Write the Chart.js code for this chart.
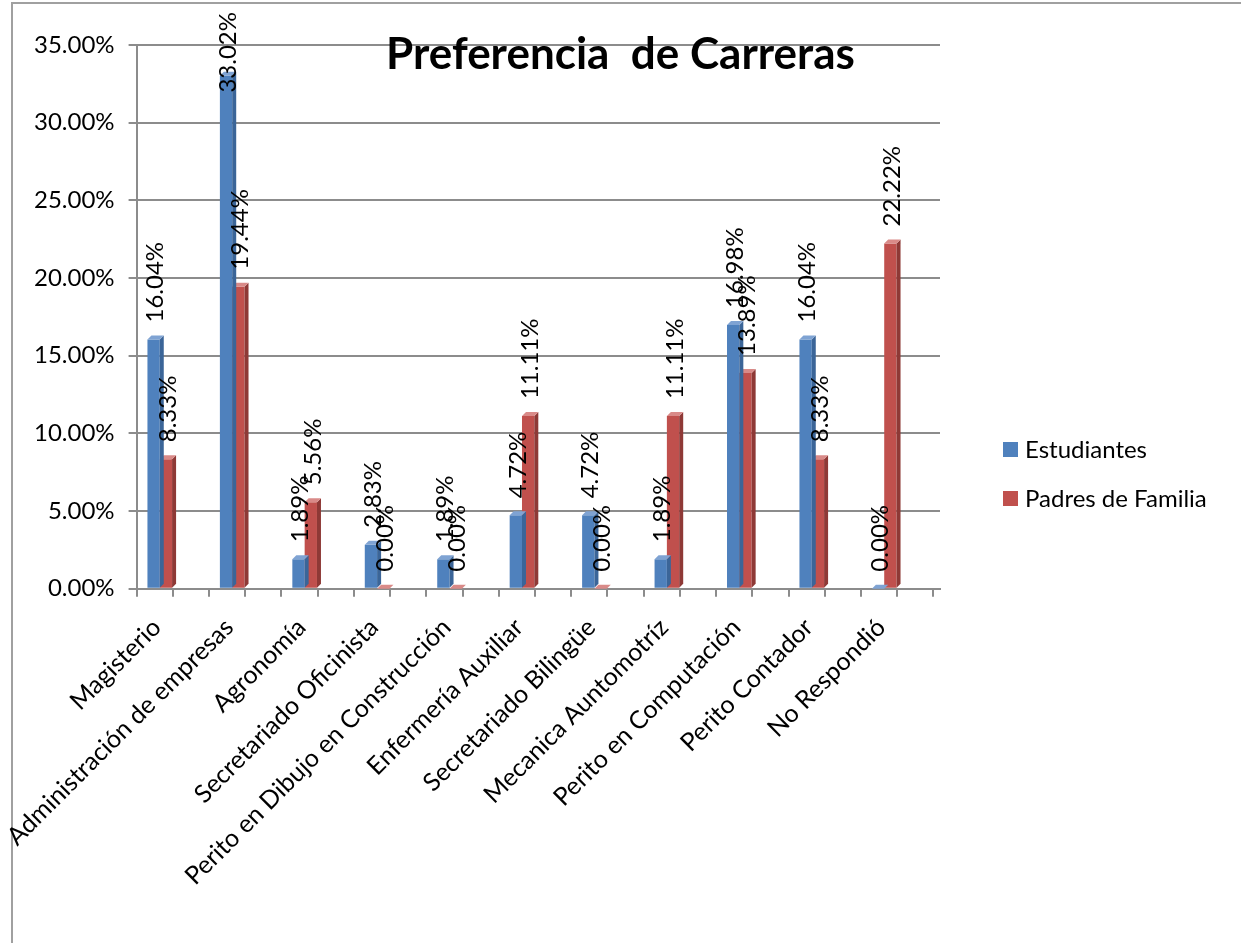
<!DOCTYPE html>
<html>
<head>
<meta charset="utf-8">
<script src="https://cdn.jsdelivr.net/npm/chart.js@4.4.0/dist/chart.umd.min.js"></script>
<style>
  html, body { margin: 0; padding: 0; background: #fff; }
  #wrap { width: 1241px; height: 943px; }
</style>
</head>
<body>
<div id="wrap"><canvas id="bar-chart" width="1241" height="943"></canvas></div>
<script>
// datos
const carreras = ["Magisterio", "Administración de empresas", "Agronomía", "Secretariado Oficinista",
  "Perito en Dibujo en Construcción", "Enfermería Auxiliar", "Secretariado Bilingüe",
  "Mecanica Auntomotríz", "Perito en Computación", "Perito Contador", "No Respondió"];
const estudiantes = [16.04, 33.02, 1.89, 2.83, 1.89, 4.72, 4.72, 1.89, 16.98, 16.04, 0.00];
const padres = [8.33, 19.44, 5.56, 0.00, 0.00, 11.11, 0.00, 11.11, 13.89, 8.33, 22.22];
const titulo = "Preferencia  de Carreras";
const FONT = "Lato, 'Open Sans', sans-serif";

// marco gris de la imagen
const marco = {
  id: 'marco',
  beforeDraw(chart) {
    const ctx = chart.ctx;
    ctx.save();
    ctx.strokeStyle = "#a0a0a0";
    ctx.lineWidth = 2;
    ctx.strokeRect(12, 3, chart.width + 20, chart.height + 20);
    ctx.restore();
  }
};

// efecto 3d sencillo + etiquetas verticales + titulo + leyenda
const barras3d = {
  id: 'barras3d',
  afterDatasetsDraw(chart) {
    const ctx = chart.ctx;
    const d = 4;
    const sombras = ["#3b6598", "#8e3936"];
    const topes = ["#7fa3d3", "#d98a88"];
    ctx.save();
    [1, 0].forEach(i => {
      chart.getDatasetMeta(i).data.forEach(bar => {
        const p = bar.getProps(['x', 'y', 'base', 'width'], true);
        const l = p.x - p.width / 2, r = p.x + p.width / 2;
        ctx.fillStyle = sombras[i];
        ctx.beginPath();
        ctx.moveTo(r, p.y); ctx.lineTo(r + d, p.y - d); ctx.lineTo(r + d, p.base - d); ctx.lineTo(r, p.base);
        ctx.closePath(); ctx.fill();
        ctx.fillStyle = topes[i];
        ctx.beginPath();
        ctx.moveTo(l, p.y); ctx.lineTo(l + d, p.y - d); ctx.lineTo(r + d, p.y - d); ctx.lineTo(r, p.y);
        ctx.closePath(); ctx.fill();
      });
    });
    ctx.fillStyle = "#000";
    ctx.font = "24px " + FONT;
    ctx.textAlign = "left";
    ctx.textBaseline = "middle";
    [0, 1].forEach(i => {
      const vals = chart.data.datasets[i].data;
      chart.getDatasetMeta(i).data.forEach((bar, j) => {
        const p = bar.getProps(['x', 'y'], true);
        const txt = vals[j].toFixed(2) + "%";
        const w = ctx.measureText(txt).width;
        // como en excel, la etiqueta no se sale por arriba
        const y0 = Math.max(p.y - 17, 12 + w);
        ctx.save();
        ctx.translate(p.x + 2, y0);
        ctx.rotate(-Math.PI / 2);
        ctx.fillText(txt, 0, 0);
        ctx.restore();
      });
    });
    ctx.restore();
  },
  afterDraw(chart) {
    const ctx = chart.ctx;
    const area = chart.chartArea;
    ctx.save();
    ctx.font = "bold 44px " + FONT;
    ctx.fillStyle = "#000";
    ctx.textAlign = "center";
    ctx.textBaseline = "middle";
    ctx.fillText(titulo, chart.width / 2, area.top + 10);

    // leyenda
    ctx.font = "24px " + FONT;
    ctx.textAlign = "left";
    const x0 = area.right + 63;
    const yc = chart.height / 2;
    chart.data.datasets.forEach((ds, i) => {
      const y = yc - 22 + i * 49;
      ctx.fillStyle = ds.backgroundColor;
      ctx.fillRect(x0, y - 7.5, 15, 15);
      ctx.fillStyle = "#000";
      ctx.fillText(ds.label, x0 + 22, y + 1);
    });
    ctx.restore();
  }
};

new Chart(document.getElementById("bar-chart"), {
  type: 'bar',
  data: {
    labels: carreras.map((c, i) => i),
    datasets: [{
        data: estudiantes,
        label: "Estudiantes",
        backgroundColor: "#4F81BD"
      }, {
        data: padres,
        label: "Padres de Familia",
        backgroundColor: "#C0504D"
      }
    ]
  },
  options: {
    responsive: false,
    animation: false,
    categoryPercentage: 0.68,
    barPercentage: 1.0,
    layout: { padding: { left: 20, top: 45, right: 301, bottom: 36 } },
    plugins: {
      tooltip: { enabled: false },
      legend: { display: false }
    },
    scales: {
      x: {
        type: 'linear',
        offset: false,
        min: -0.32,
        max: 10.77,
        // marcas cada media categoria, como en el original
        afterBuildTicks(s) {
          const t = [];
          for (let v = s.min; v < s.max; v += 0.5) t.push({ value: v });
          s.ticks = t;
        },
        grid: { drawOnChartArea: false, offset: false, color: "#8c8c8c", lineWidth: 2, tickLength: 8 },
        border: { color: "#8c8c8c", width: 2 },
        ticks: {
          font: { family: FONT, size: 25 },
          color: "#000",
          minRotation: 45,
          maxRotation: 45,
          autoSkip: false,
          padding: 16,
          labelOffset: -16,
          callback: (v, i) => (i % 2 === 1 ? carreras[(i - 1) / 2] : "")
        }
      },
      y: {
        min: 0,
        max: 35,
        grid: { color: "#8c8c8c", lineWidth: 2, tickLength: 8 },
        border: { color: "#8c8c8c", width: 2 },
        ticks: {
          stepSize: 5,
          padding: 14,
          font: { family: FONT, size: 24 },
          color: "#000",
          callback: v => v.toFixed(2) + "%"
        }
      }
    }
  },
  plugins: [marco, barras3d]
});
</script>
</body>
</html>
